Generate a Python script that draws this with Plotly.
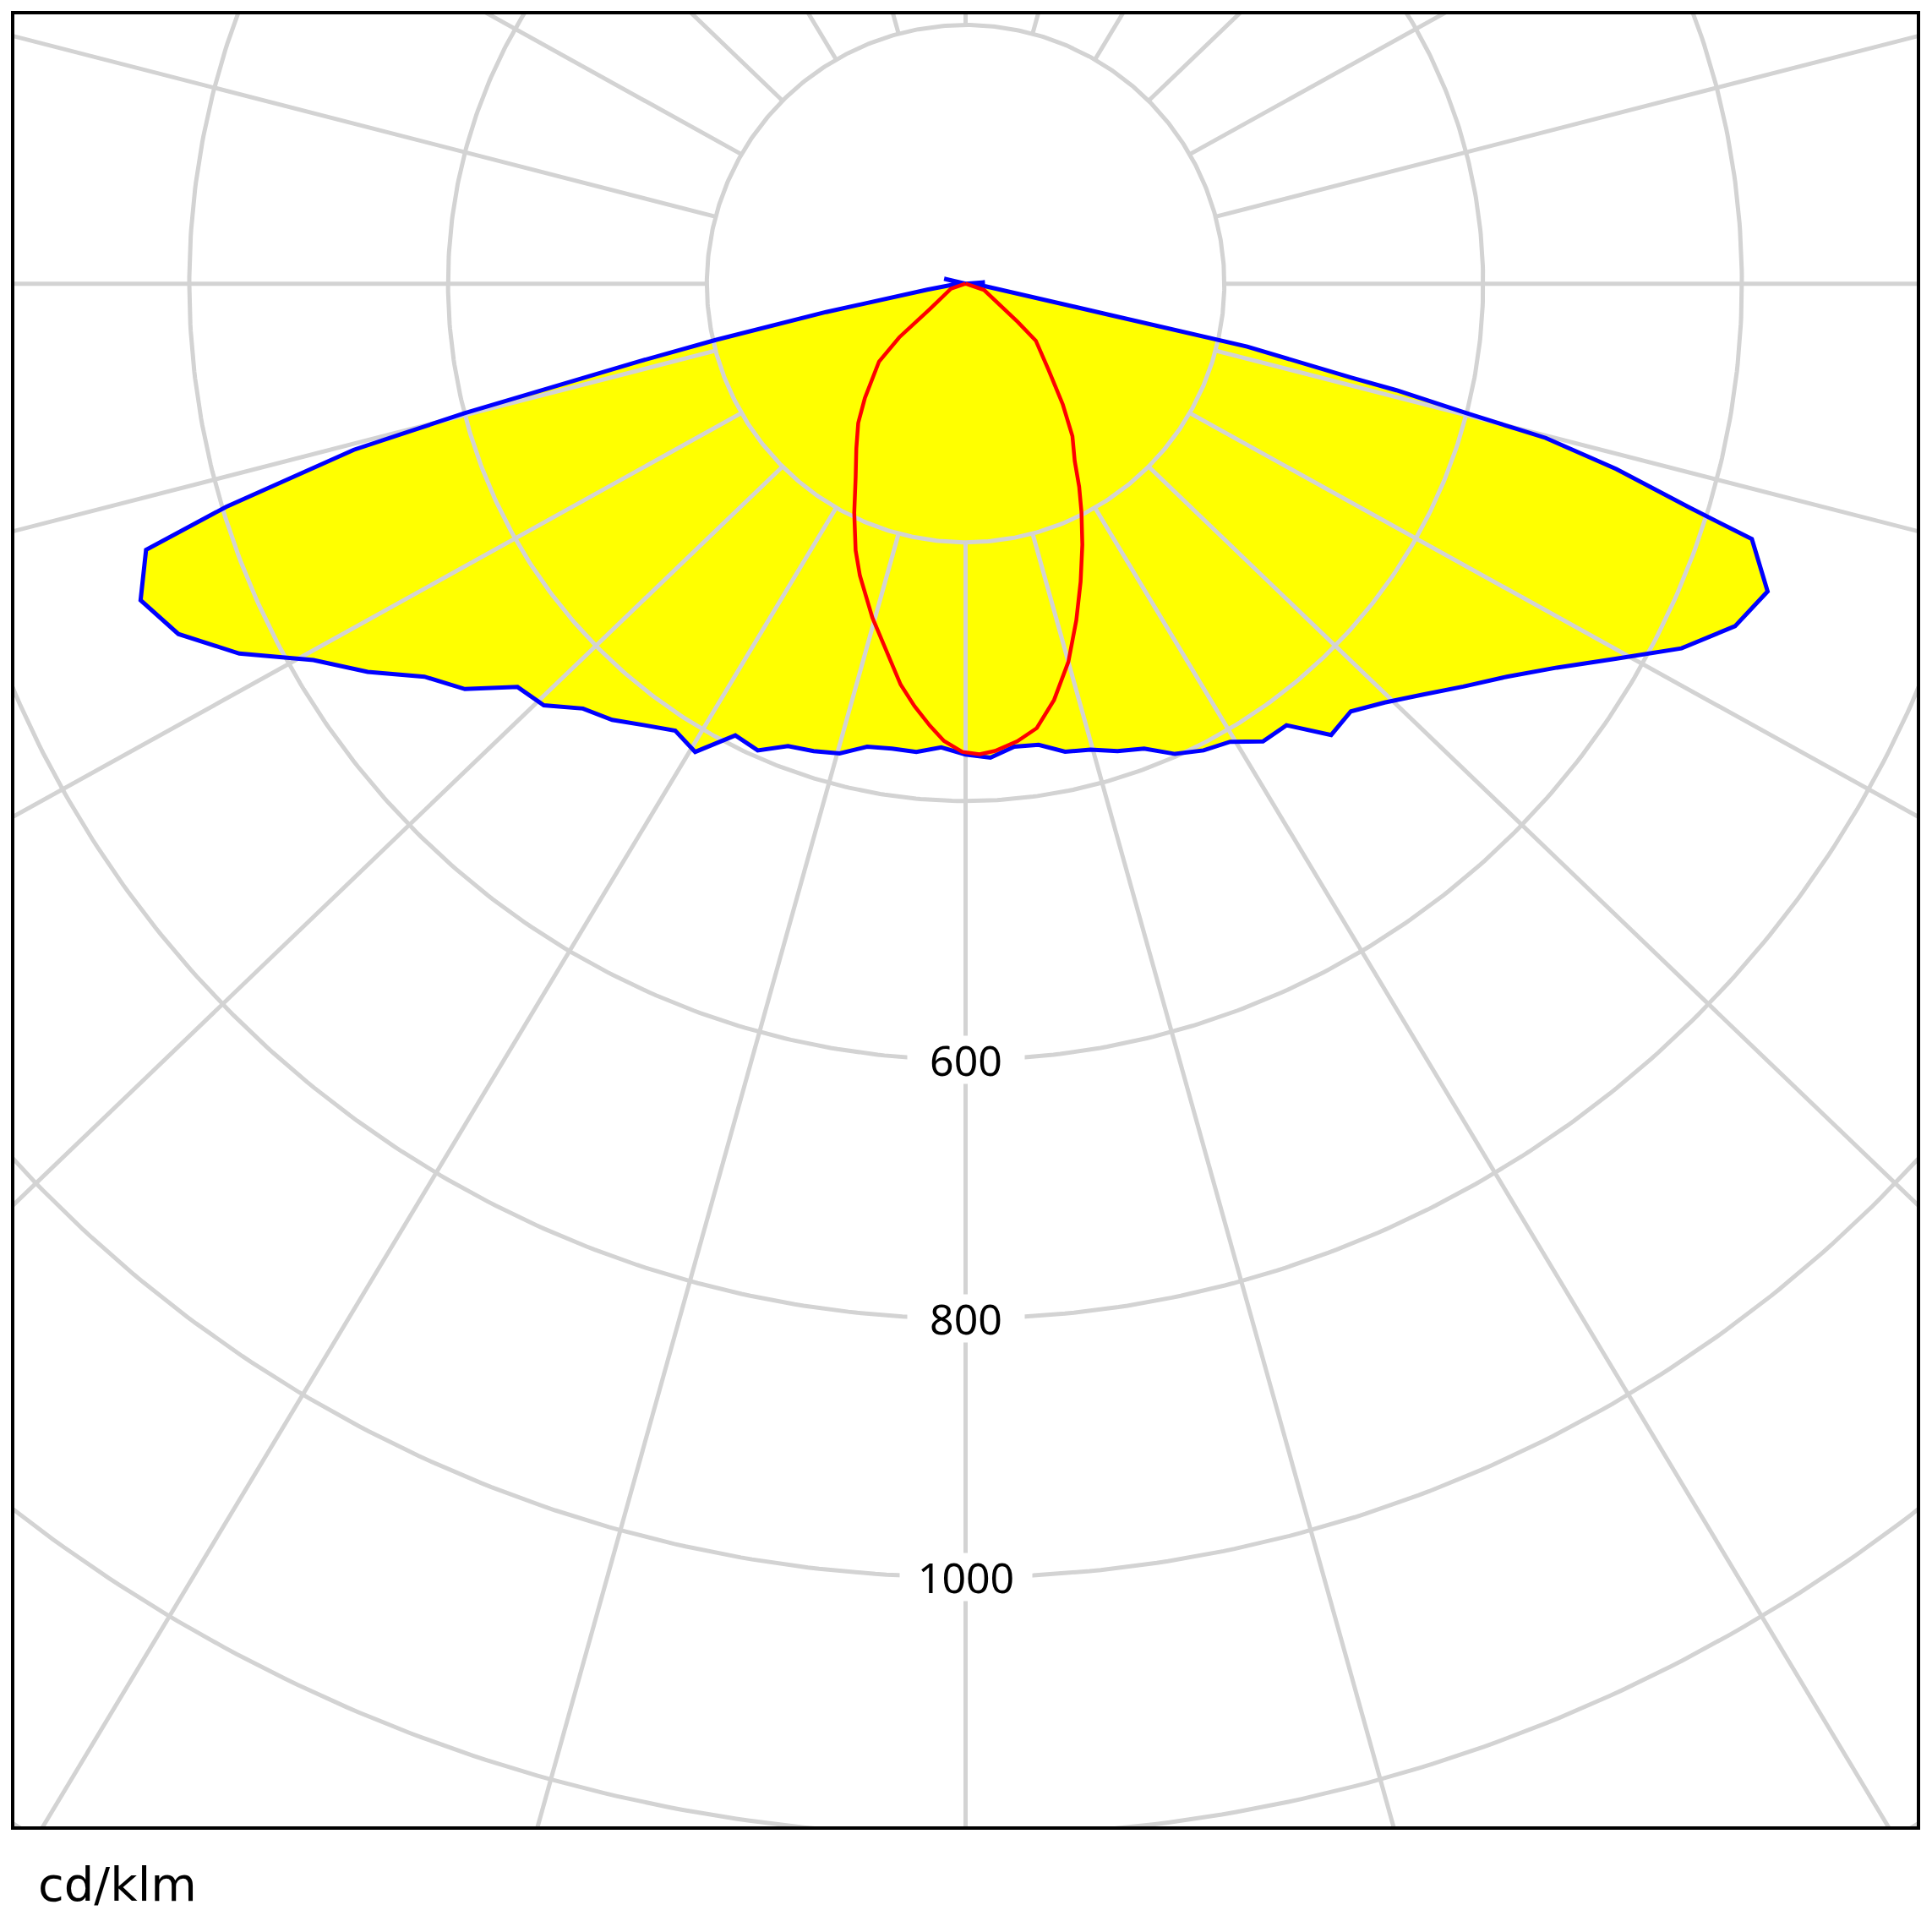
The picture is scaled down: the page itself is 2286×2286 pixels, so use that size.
import numpy as np
import plotly.graph_objects as go

# ---------------- data (cd/klm) ----------------
# C0-C180 plane (blue): signed gamma angle (deg, negative = left / C180), intensity
blue_gamma = [-180, -103, -90, -84, -81, -78.5, -77.3, -76.6, -75.9, -75.5, -74.8, -73.2,
              -72, -69, -66, -63, -60, -57, -54, -51, -48, -45, -42, -39, -36, -33, -30,
              -27, -24, -21, -18, -15, -12, -9, -6, -3, 0, 3, 6, 9, 12, 15, 18, 21, 24,
              27, 30, 33, 36, 39, 42, 45, 48, 51, 54, 57, 60, 63, 66, 69, 72, 72.8, 74.1,
              75.1, 75.5, 76.1, 76.3, 77.4, 77.8, 80, 84, 90, 94, 180]
blue_I = [0, 17, 2, 12, 30, 110, 198, 260, 340, 400, 490, 597,
          666, 683, 666, 630, 582, 551, 517, 498, 466, 461, 442, 434, 422, 412, 418,
          392, 395, 383, 380, 376, 366, 364, 364, 359, 364, 367, 360, 361, 370, 373, 380, 385, 398,
          405, 409, 422, 422, 449, 445, 458, 475, 495, 517, 545, 580, 621, 651, 664, 639, 586, 523,
          464, 400, 343, 307, 223, 110, 30, 12, 2, 15, 0]

# C90-C270 plane (red)
red_gamma = [-90, -71, -54.6, -51.0, -48.0, -41.3, -37.6, -33.5, -29.6, -25.9, -22.4, -19.9,
             -15.6, -12.4, -9.2, -6.9, -4.6, -2.7, -0.4, 1.7, 3.6, 6.45, 9.1, 12.0, 15.2,
             18.2, 21.1, 24.1, 26.9, 29.2, 31.6, 35.0, 38.8, 44.0, 50.9, 53.7, 57.7, 71.1, 90]
red_I = [0, 12, 34, 66, 90, 118, 136, 153, 172, 197, 223, 240,
         268, 289, 314, 329, 343, 354, 362, 364, 362, 356, 348, 329, 303,
         274, 247, 221, 198, 180, 161, 144, 120, 92, 70, 50, 32, 15, 0]

grid_radii = [200, 400, 600, 800, 1000, 1200, 1400, 1600]
spoke_angles = list(range(0, 360, 15))
ring_labels = [600, 800, 1000]
unit_label = "cd/klm"


def to_xy(gamma, inten):
    g = np.radians(np.asarray(gamma, dtype=float))
    r = np.asarray(inten, dtype=float)
    return r * np.sin(g), -r * np.cos(g)


# ---------------- grid ----------------
gx, gy = [], []
t = np.radians(np.linspace(0, 360, 721))
for rr in grid_radii:
    gx += list(rr * np.sin(t)) + [None]
    gy += list(-rr * np.cos(t)) + [None]
SPOKE_XSTRETCH = 1.038  # spokes in the original fan out slightly wider than true angles
for a in spoke_angles:
    ar = np.radians(a)
    gx += [200 * np.sin(ar), 2400 * SPOKE_XSTRETCH * np.sin(ar), None]
    gy += [-200 * np.cos(ar), -2400 * np.cos(ar), None]

bx, by = to_xy(blue_gamma, blue_I)
rx, ry = to_xy(red_gamma, red_I)

fig = go.Figure()
fig.add_trace(go.Scatter(x=bx, y=by, mode="lines", fill="toself", fillcolor="#ffff00",
                         line=dict(width=0, color="#ffff00"), hoverinfo="skip", showlegend=False))
fig.add_trace(go.Scatter(x=gx, y=gy, mode="lines", line=dict(color="#d3d3d3", width=5),
                         hoverinfo="skip", showlegend=False))
fig.add_trace(go.Scatter(x=bx, y=by, mode="lines", line=dict(color="#0000ff", width=5),
                         showlegend=False, name="C0-C180"))
fig.add_trace(go.Scatter(x=rx, y=ry, mode="lines", line=dict(color="#ff0000", width=4.5),
                         showlegend=False, name="C90-C270"))

for v in ring_labels:
    fig.add_annotation(x=0, y=-v, xref="x", yref="y", text=str(v), showarrow=False,
                       font=dict(family="Noto Sans, DejaVu Sans", size=50, color="black"),
                       bgcolor="white", width=(150 if v >= 1000 else 132), height=50,
                       borderpad=3, xanchor="center", yanchor="middle")

fig.add_annotation(x=(43 - 15) / 2255, y=-0.031, xref="paper", yref="paper", text=unit_label,
                   showarrow=False, xanchor="left", yanchor="middle",
                   font=dict(family="DejaVu Sans", size=56, color="black"))

fig.add_shape(type="rect", xref="paper", yref="paper", x0=0, y0=0, x1=1, y1=1,
              line=dict(color="black", width=4), layer="above")

fig.update_layout(
    width=2270, height=2270,
    margin=dict(l=7, r=8, t=7, b=115, pad=0),
    paper_bgcolor="white", plot_bgcolor="white",
    xaxis=dict(range=[-736.5, 736.5], showgrid=False, zeroline=False, showticklabels=False,
               visible=False, fixedrange=True),
    yaxis=dict(range=[-1194, 209.5], showgrid=False, zeroline=False, showticklabels=False,
               visible=False, fixedrange=True),
    showlegend=False,
)

fig.write_html("out.html")
